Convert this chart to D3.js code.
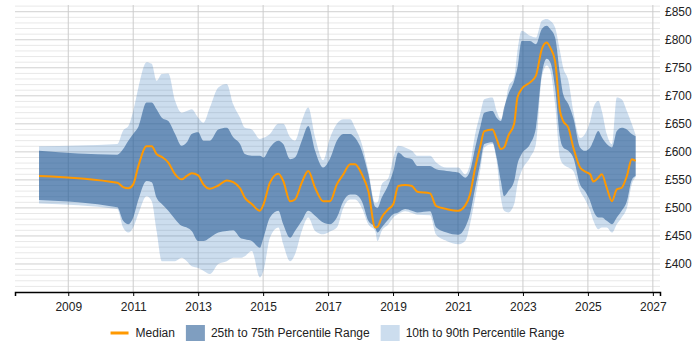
<!DOCTYPE html>
<html>
<head>
<meta charset="utf-8">
<script src="https://cdn.jsdelivr.net/npm/d3@7"></script>
<style>
body {margin:0; background:#fff;}
text {font-family:"Liberation Sans", Arial, sans-serif; font-size:12px; fill:#222;}
</style>
</head>
<body>
<svg></svg>
<script>
var screen = {width:700,height:350}
var margins = {top:5,right:40,left:15,bottom:58}

// decimal years of each sample
var years = [2008.10,2010.51,2010.69,2010.85,2011.00,2011.16,2011.41,2011.57,2011.72,2011.88,
             2012.08,2012.29,2012.49,2012.65,2012.80,2013.00,2013.16,2013.36,2013.62,2013.88,
             2014.08,2014.29,2014.44,2014.65,2014.90,2015.01,2015.21,2015.47,2015.62,2015.83,
             2015.98,2016.19,2016.39,2016.60,2016.85,2017.06,2017.27,2017.47,2017.68,2017.83,
             2018.04,2018.24,2018.45,2018.52,2018.65,2018.86,2019.01,2019.16,2019.37,2019.58,
             2019.75,2020.14,2020.33,2020.65,2021.01,2021.22,2021.37,2021.53,2021.68,2021.81,
             2022.06,2022.19,2022.32,2022.42,2022.55,2022.73,2022.83,2022.96,2023.22,2023.40,
             2023.58,2023.73,2023.84,2023.99,2024.14,2024.24,2024.40,2024.55,2024.76,2024.91,
             2025.07,2025.17,2025.32,2025.43,2025.58,2025.74,2025.89,2026.04,2026.20,2026.35,2026.47]

var median = [557,545,537,535,542,575,610,610,596,591,
              581,560,551,557,562,558,542,534,540,549,
              546,535,518,507,495,506,545,561,548,512,
              515,545,566,536,512,512,542,560,578,578,
              560,530,465,466,483,498,507,539,541,539,
              529,526,503,498,495,504,524,572,608,637,
              640,623,605,608,629,650,697,712,724,736,
              783,795,786,762,673,655,643,608,572,565,
              560,547,554,560,536,512,533,536,557,587,584]

var p25 = [514,501,477,471,483,515,548,546,518,507,
           495,480,468,465,459,441,441,447,456,459,
           460,447,444,441,429,447,483,495,471,447,
           459,477,495,486,474,471,483,512,524,524,
           512,477,465,456,465,480,489,492,498,495,
           492,494,465,456,452,465,489,536,578,614,
           617,590,548,521,530,548,578,596,614,643,
           739,766,760,715,626,608,602,590,542,530,
           512,495,483,483,477,471,483,495,512,550,557]

var p75 = [602,595,605,620,632,645,688,688,676,661,
           655,632,611,617,632,635,620,620,640,643,
           626,614,596,593,593,590,608,620,614,587,
           590,620,646,602,572,588,620,632,632,625,
           602,560,502,500,518,542,566,599,590,587,
           575,575,569,566,563,554,566,608,643,670,
           673,661,655,679,703,727,750,798,798,792,
           819,825,819,804,739,703,685,661,608,602,
           608,620,637,626,614,608,637,643,640,632,628]

var p10 = [508,498,465,456,465,490,521,512,459,405,
           405,405,411,405,396,393,388,382,400,405,
           411,411,414,423,376,388,447,465,435,405,
           417,459,483,459,453,458,465,500,515,515,
           500,471,459,441,459,471,483,489,494,491,
           488,487,452,441,435,441,471,518,566,608,
           614,584,518,495,492,507,542,566,590,614,
           733,754,745,685,590,578,572,566,530,515,
           495,477,462,465,465,456,471,483,500,542,555]

var p90 = [610,614,638,646,673,715,760,757,727,739,
           740,691,670,673,676,661,652,679,715,721,
           685,661,643,640,623,625,632,650,650,626,
           620,655,679,626,585,625,650,658,658,643,
           614,566,509,510,542,554,590,611,608,602,
           593,593,581,572,572,560,578,632,667,694,
           697,673,658,673,715,733,780,816,807,804,
           834,837,834,822,780,750,727,673,625,632,
           655,679,691,673,632,614,697,694,673,650,630]

var xTicks = d3.range(2009, 2028, 2)
var yTicks = d3.range(400, 851, 50)
var legendLabels = ["Median","25th to 75th Percentile Range","10th to 90th Percentile Range"]

var setup = function()
{
    var svg = d3.select("svg")
                .attr("width",screen.width)
                .attr("height",screen.height)

    var width = screen.width - margins.left - margins.right
    var height = screen.height - margins.top - margins.bottom

    var xScale = d3.scaleLinear()
                   .domain([2007.36,2027.22])
                   .range([margins.left, margins.left+width])
    var yScale = d3.scaleLinear()
                   .domain([350,862])
                   .range([margins.top+height, margins.top])

    // minor grid every 10, major every 50
    svg.append("g")
       .selectAll("line")
       .data(d3.range(360, 861, 10))
       .enter()
       .append("line")
       .attr("x1",margins.left)
       .attr("x2",margins.left+width)
       .attr("y1",function(d){return yScale(d)})
       .attr("y2",function(d){return yScale(d)})
       .attr("stroke",function(d){return d%50==0 ? "#d0d0d0" : "#e8e8e8"})
       .attr("stroke-width",1)

    svg.append("g")
       .selectAll("line")
       .data(xTicks)
       .enter()
       .append("line")
       .attr("x1",function(d){return xScale(d)})
       .attr("x2",function(d){return xScale(d)})
       .attr("y1",margins.top)
       .attr("y2",margins.top+height)
       .attr("stroke","#ccc")
       .attr("stroke-width",1)

    var rows = years.map(function(y,i)
    {
        return {year:y, med:median[i], q1:p25[i], q3:p75[i], lo:p10[i], hi:p90[i]}
    })

    var outer = d3.area()
                  .x(function(d){return xScale(d.year)})
                  .y0(function(d){return yScale(d.lo)})
                  .y1(function(d){return yScale(d.hi)})
                  .curve(d3.curveMonotoneX)
    var inner = d3.area()
                  .x(function(d){return xScale(d.year)})
                  .y0(function(d){return yScale(d.q1)})
                  .y1(function(d){return yScale(d.q3)})
                  .curve(d3.curveMonotoneX)
    var line = d3.line()
                 .x(function(d){return xScale(d.year)})
                 .y(function(d){return yScale(d.med)})
                 .curve(d3.curveMonotoneX)

    svg.append("path")
       .attr("d",outer(rows))
       .attr("fill","#0055aa")
       .attr("fill-opacity",0.2)
    svg.append("path")
       .attr("d",inner(rows))
       .attr("fill","#2a5e96")
       .attr("fill-opacity",0.6)
    svg.append("path")
       .attr("d",line(rows))
       .attr("fill","none")
       .attr("stroke","#ff9900")
       .attr("stroke-width",2)

    var xAxis = d3.axisBottom(xScale)
                  .tickValues(xTicks)
                  .tickFormat(d3.format("d"))
                  .tickSizeOuter(0)
                  .tickSize(4)
                  .tickPadding(6)
    svg.append("g")
       .attr("id","xAxis")
       .attr("transform","translate(0,"+(margins.top+height)+")")
       .call(xAxis)
    svg.select("#xAxis .domain").attr("stroke","#000").attr("stroke-width",1.5)
    svg.selectAll("#xAxis .tick line").attr("stroke","#000")
    svg.selectAll("#xAxis text").attr("font-size",12).attr("font-family",null).attr("fill","#222")

    svg.append("g")
       .selectAll("text")
       .data(yTicks)
       .enter()
       .append("text")
       .attr("x",margins.left+width+5)
       .attr("y",function(d){return yScale(d)})
       .attr("dy","0.35em")
       .text(function(d){return "£"+d})

    drawLegend(svg, margins.left+width/2, 333)
}

var drawLegend = function(svg, center, y)
{
    var g = svg.append("g")
    var x = 0
    legendLabels.forEach(function(label,i)
    {
        if (i==0)
        {
            g.append("line")
             .attr("x1",x).attr("x2",x+18)
             .attr("y1",y).attr("y2",y)
             .attr("stroke","#ff9900").attr("stroke-width",3)
        }
        else
        {
            g.append("rect")
             .attr("x",x).attr("y",y-8)
             .attr("width",19).attr("height",16)
             .attr("fill", i==1 ? "#2a5e96" : "#0055aa")
             .attr("fill-opacity", i==1 ? 0.6 : 0.2)
        }
        var t = g.append("text")
                 .attr("x",x+25)
                 .attr("y",y)
                 .attr("dy","0.35em")
                 .text(label)
        x = x + 25 + t.node().getComputedTextLength() + 11
    })
    var total = x - 11
    g.attr("transform","translate("+(center-total/2)+",0)")
}

setup()
</script>
</body>
</html>
